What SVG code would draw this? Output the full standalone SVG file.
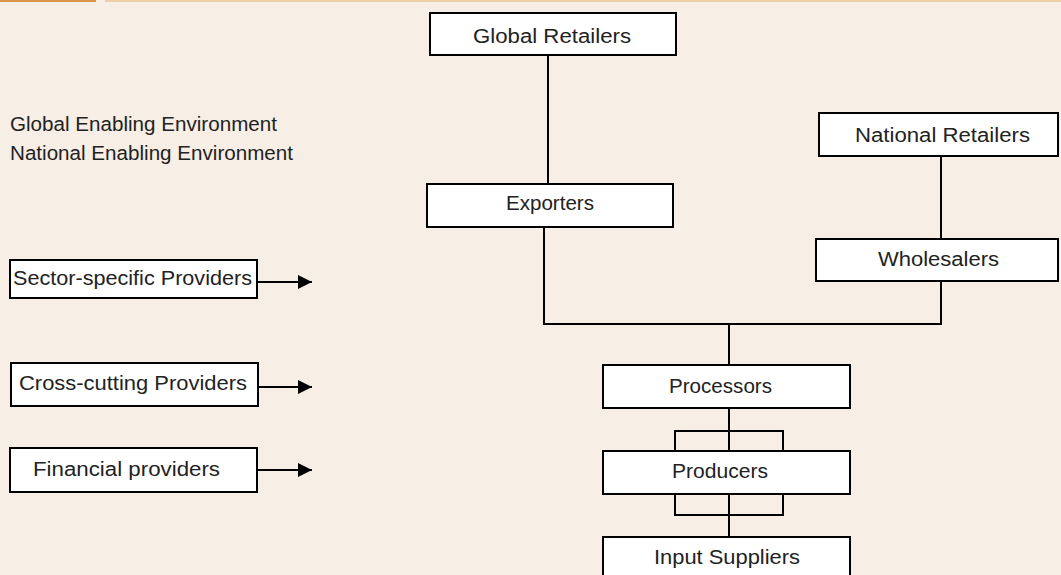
<svg xmlns="http://www.w3.org/2000/svg" width="1061" height="575" viewBox="0 0 1061 575">
<defs>
<style>
.bg{fill:#f7eee5}
.box{fill:#ffffff;stroke:#000000;stroke-width:2}
.ln{fill:none;stroke:#000000;stroke-width:2}
text{font-family:"Liberation Sans","DejaVu Sans",sans-serif;font-size:20px;fill:#222222}
</style>
<marker id="ah" markerWidth="8" markerHeight="8" refX="7" refY="4" orient="auto" markerUnits="strokeWidth">
<path d="M0,0.5 L7,4 L0,7.5 Z" fill="#000"/>
</marker>
</defs>
<rect class="bg" x="0" y="0" width="1061" height="575"/>
<rect x="0" y="0" width="96" height="2" fill="#d9964a"/>
<rect x="105" y="0" width="956" height="2" fill="#efcfa6"/>
<text x="10" y="131" textLength="267" lengthAdjust="spacingAndGlyphs">Global Enabling Environment</text>
<text x="10" y="160" textLength="283" lengthAdjust="spacingAndGlyphs">National Enabling Environment</text>
<g id="connectors">
<line class="ln" x1="548" y1="55" x2="548" y2="184"/>
<polyline class="ln" points="544,227 544,324 941,324 941,281"/>
<line class="ln" x1="941" y1="156" x2="941" y2="239"/>
<line class="ln" x1="729" y1="324" x2="729" y2="365"/>
<line class="ln" x1="729" y1="408" x2="729" y2="451"/>
<polyline class="ln" points="675,451 675,431 783,431 783,451"/>
<polyline class="ln" points="675,494 675,515 783,515 783,494"/>
<line class="ln" x1="729" y1="494" x2="729" y2="537"/>
<line class="ln" x1="257" y1="282" x2="312" y2="282" marker-end="url(#ah)"/>
<line class="ln" x1="258" y1="387" x2="312" y2="387" marker-end="url(#ah)"/>
<line class="ln" x1="257" y1="470" x2="312" y2="470" marker-end="url(#ah)"/>
</g>
<g id="global-retailers"><rect class="box" x="430" y="13" width="246" height="42"/><text x="473" y="43" textLength="158" lengthAdjust="spacingAndGlyphs">Global Retailers</text></g>
<g id="exporters"><rect class="box" x="427" y="184" width="246" height="43"/><text x="506" y="210" textLength="88" lengthAdjust="spacingAndGlyphs">Exporters</text></g>
<g id="national-retailers"><rect class="box" x="819" y="113" width="239" height="43"/><text x="855" y="142" textLength="175" lengthAdjust="spacingAndGlyphs">National Retailers</text></g>
<g id="wholesalers"><rect class="box" x="816" y="239" width="242" height="42"/><text x="878" y="266" textLength="121" lengthAdjust="spacingAndGlyphs">Wholesalers</text></g>
<g id="processors"><rect class="box" x="603" y="365" width="247" height="43"/><text x="669" y="393" textLength="103" lengthAdjust="spacingAndGlyphs">Processors</text></g>
<g id="producers"><rect class="box" x="603" y="451" width="247" height="43"/><text x="672" y="478" textLength="96" lengthAdjust="spacingAndGlyphs">Producers</text></g>
<g id="input-suppliers"><rect class="box" x="603" y="537" width="247" height="42"/><text x="654" y="564" textLength="146" lengthAdjust="spacingAndGlyphs">Input Suppliers</text></g>
<g id="sector-specific"><rect class="box" x="10" y="260" width="247" height="38"/><text x="13" y="285" textLength="239" lengthAdjust="spacingAndGlyphs">Sector-specific Providers</text></g>
<g id="cross-cutting"><rect class="box" x="11" y="363" width="247" height="43"/><text x="19" y="390" textLength="228" lengthAdjust="spacingAndGlyphs">Cross-cutting Providers</text></g>
<g id="financial"><rect class="box" x="10" y="448" width="247" height="44"/><text x="33" y="476" textLength="187" lengthAdjust="spacingAndGlyphs">Financial providers</text></g>
</svg>
